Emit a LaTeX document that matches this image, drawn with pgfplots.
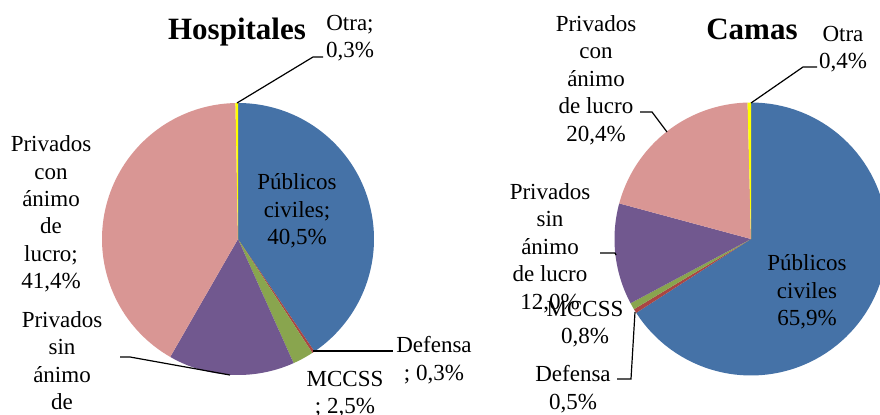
\documentclass[border=0pt]{standalone}
\usepackage{pgfplots}
\pgfplotsset{compat=1.18}
\usepackage{fontspec}
\setmainfont{Liberation Serif}

\definecolor{cPub}{HTML}{4572A7}
\definecolor{cDef}{HTML}{AA4643}
\definecolor{cMcc}{HTML}{89A54E}
\definecolor{cSin}{HTML}{71588F}
\definecolor{cCon}{HTML}{D99694}
\definecolor{cOtr}{HTML}{FFFF00}

\tikzset{lbl/.style={font=\fontsize{11.5}{13.7}\selectfont, align=center, inner sep=0pt}}

% slice from cumulative percentage #4 to #5, clockwise from 12 o'clock
% #1,#2 centre, #3 radius (pixel units), #6 colour
\newcommand{\slice}[6]{%
  \addplot[draw=none, fill=#6, domain=90-3.6*#5:90-3.6*#4, samples=90]
    ({#1+#3*cos(x)},{#2+#3*sin(x)}) -- (axis cs:#1,#2) -- cycle;
}

\begin{document}
\begin{tikzpicture}
\begin{axis}[
  width=440pt, height=207pt, scale only axis,
  xmin=0, xmax=880, ymin=0, ymax=414,
  hide axis, clip=false,
]
% ---- Hospitales (centre 238,175) ----
% Publicos civiles 40.5, Defensa 0.3, MCCSS 2.5, sin animo 15.0, con animo 41.4, Otra 0.3
\slice{238}{175}{136}{0}{40.5}{cPub}
\slice{238}{175}{136}{40.5}{40.8}{cDef}
\slice{238}{175}{136}{40.8}{43.3}{cMcc}
\slice{238}{175}{136}{43.3}{58.3}{cSin}
\slice{238}{175}{136}{58.3}{99.7}{cCon}
\slice{238}{175}{136}{99.7}{100}{cOtr}

% ---- Camas (centre 751,175) ----
% Publicos civiles 65.9, Defensa 0.5, MCCSS 0.8, sin animo 12.0, con animo 20.4, Otra 0.4
\slice{751}{175}{136.5}{0}{65.9}{cPub}
\slice{751}{175}{136.5}{65.9}{66.4}{cDef}
\slice{751}{175}{136.5}{66.4}{67.2}{cMcc}
\slice{751}{175}{136.5}{67.2}{79.2}{cSin}
\slice{751}{175}{136.5}{79.2}{99.6}{cCon}
\slice{751}{175}{136.5}{99.6}{100}{cOtr}

% leader lines
\addplot[black, line width=0.6pt] coordinates {(237,311) (313,357) (323,357)};
\addplot[black, line width=0.6pt] coordinates {(313,63) (393,63)};
\addplot[black, line width=0.6pt] coordinates {(120,57) (130,57) (230,39)};
\addplot[black, line width=0.6pt] coordinates {(751,311) (803,347) (817,347)};
\addplot[black, line width=0.6pt] coordinates {(640,302) (652,302) (667,282)};
\addplot[black, line width=0.6pt] coordinates {(600,161) (615,161) (616,159)};
\addplot[black, line width=0.6pt] coordinates {(617,35) (631,35) (635,102)};

% titles
\node[font=\fontsize{15.5}{18}\selectfont\bfseries, anchor=base, inner sep=0pt] at (axis cs:237,375) {Hospitales};
\node[font=\fontsize{15.5}{18}\selectfont\bfseries, anchor=base, inner sep=0pt] at (axis cs:752,375) {Camas};

% Hospitales labels
\node[lbl] at (axis cs:350,376) {Otra;\\0,3\%};
\node[lbl] at (axis cs:297,203) {Públicos\\civiles;\\40,5\%};
\node[lbl] at (axis cs:434,54) {Defensa\\; 0,3\%};
\node[lbl] at (axis cs:345,20) {MCCSS\\; 2,5\%};
\node[lbl, anchor=north] at (axis cs:62,103) {Privados\\sin\\ánimo\\de\\lucro;\\15,0\%};
\node[lbl] at (axis cs:51,200) {Privados\\con\\ánimo\\de\\lucro;\\41,4\%};

% Camas labels
\node[lbl] at (axis cs:843,365) {Otra\\0,4\%};
\node[lbl] at (axis cs:596,334) {Privados\\con\\ánimo\\de lucro\\20,4\%};
\node[lbl] at (axis cs:550,166) {Privados\\sin\\ánimo\\de lucro\\12,0\%};
\node[lbl] at (axis cs:585,90) {MCCSS\\0,8\%};
\node[lbl] at (axis cs:573,25) {Defensa\\0,5\%};
\node[lbl] at (axis cs:807,122) {Públicos\\civiles\\65,9\%};
\end{axis}
\pgfresetboundingbox
\path (current axis.south west) rectangle (current axis.north east);
\end{tikzpicture}
\end{document}
